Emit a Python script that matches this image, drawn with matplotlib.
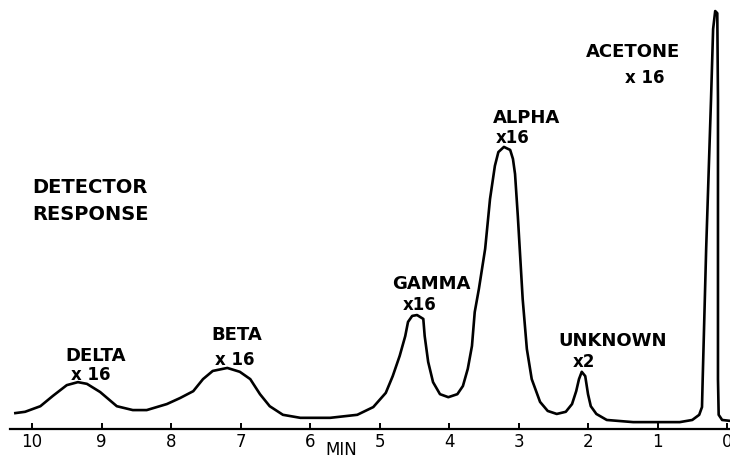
import matplotlib
matplotlib.use("Agg")
import matplotlib.pyplot as plt

# trace: retention time (min) and detector response (% of full scale)
minutes = [10.24, 10.10, 9.88, 9.70, 9.50, 9.34, 9.21, 9.02, 8.78, 8.55, 8.35, 8.06,
           7.87, 7.68, 7.54, 7.40, 7.19, 7.01, 6.86, 6.72, 6.58, 6.39, 6.14, 5.71,
           5.32, 5.09, 4.91, 4.81, 4.71, 4.63, 4.59, 4.53, 4.46, 4.37, 4.35, 4.30,
           4.23, 4.13, 4.01, 3.88, 3.80, 3.73, 3.67, 3.63, 3.57, 3.48, 3.41, 3.34,
           3.29, 3.21, 3.12, 3.08, 3.05, 3.01, 2.94, 2.88, 2.81, 2.69, 2.58, 2.45,
           2.32, 2.23, 2.17, 2.13, 2.09, 2.04, 2.00, 1.96, 1.88, 1.73, 1.35, 1.01,
           0.68, 0.50, 0.40, 0.36, 0.35, 0.30, 0.23, 0.20, 0.17, 0.14, 0.13, 0.13,
           0.12, 0.07, -0.04]
response = [3.7, 4.0, 5.3, 7.7, 10.2, 10.9, 10.5, 8.6, 5.3, 4.4, 4.4, 5.8,
            7.2, 8.8, 11.6, 13.5, 14.2, 13.3, 11.6, 8.1, 5.3, 3.3, 2.6, 2.6,
            3.3, 5.1, 8.4, 12.3, 17.0, 21.6, 24.9, 26.3, 26.5, 25.6, 21.6, 15.6,
            10.9, 8.1, 7.4, 8.1, 10.0, 14.0, 19.3, 27.2, 32.6, 41.9, 53.5, 61.2,
            64.4, 65.6, 64.9, 62.8, 59.3, 49.5, 30.2, 18.6, 11.6, 6.3, 4.2, 3.5,
            4.0, 5.8, 8.8, 11.6, 13.3, 12.3, 8.1, 5.3, 3.5, 2.1, 1.6, 1.6,
            1.6, 2.1, 3.3, 5.1, 11.6, 41.9, 76.7, 93.0, 97.2, 96.7, 76.7, 11.6,
            3.3, 2.1, 1.9]

tick_minutes = [10, 9, 8, 7, 6, 5, 4, 3, 2, 1, 0]

peak_names = ["DELTA", "BETA", "GAMMA", "ALPHA", "UNKNOWN", "ACETONE"]
peak_gains = ["x 16", "x 16", "x16", "x16", "x2", "x 16"]
# label centres (min, response) for name and gain
name_pos = [(9.08, 17.3), (7.05, 22.2), (4.26, 33.9), (2.88, 72.6), (1.64, 20.8), (1.35, 87.9)]
gain_pos = [(9.15, 12.7), (7.09, 16.2), (4.42, 29.0), (3.08, 68.0), (2.06, 15.7), (1.19, 81.8)]

fig = plt.figure(figsize=(7.3, 4.6), dpi=100)
ax = fig.add_axes([10 / 730, 30 / 460, 720 / 730, 430 / 460])

ax.plot(minutes, response, color="black", lw=1.9, solid_joinstyle="round")

ax.set_xlim(10.317, -0.043)
ax.set_ylim(0, 100)

for s in ["top", "right", "left"]:
    ax.spines[s].set_visible(False)
ax.spines["bottom"].set_linewidth(1.6)
ax.set_yticks([])
ax.set_xticks(tick_minutes)
ax.set_xticklabels([str(m) for m in tick_minutes])
ax.tick_params(axis="x", direction="in", length=4.5, width=1.4, pad=2, labelsize=12)

for name, gain, npos, gpos in zip(peak_names, peak_gains, name_pos, gain_pos):
    ax.text(npos[0], npos[1], name, ha="center", va="center", fontsize=13, fontweight="bold")
    ax.text(gpos[0], gpos[1], gain, ha="center", va="center", fontsize=12, fontweight="bold")

ax.text(9.99, 56.5, "DETECTOR", ha="left", va="center", fontsize=14, fontweight="bold")
ax.text(9.99, 50.0, "RESPONSE", ha="left", va="center", fontsize=14, fontweight="bold")

fig.text(341 / 730, 1 - 450 / 460, "MIN", ha="center", va="center", fontsize=12)

fig.savefig("out.png", dpi=100)
